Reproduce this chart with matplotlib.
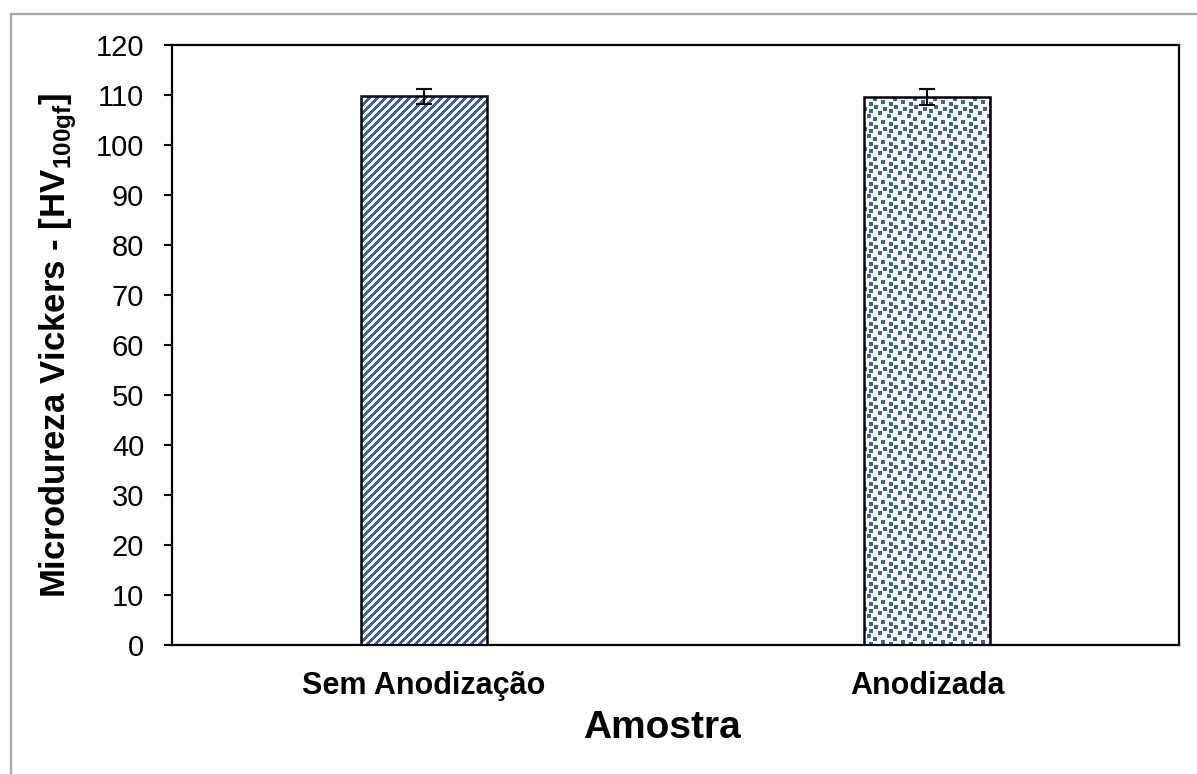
import numpy as np
import matplotlib
matplotlib.use("Agg")
import matplotlib.pyplot as plt
from matplotlib.patches import Rectangle

plt.rcParams['font.family'] = ['Liberation Sans', 'DejaVu Sans']
plt.rcParams['mathtext.fontset'] = 'custom'
plt.rcParams['mathtext.rm'] = 'Liberation Sans'
plt.rcParams['mathtext.bf'] = 'Liberation Sans:bold'

# dados de microdureza
amostras = ['Sem Anodização', 'Anodizada']
dureza = [109.7, 109.5]
desvio = [1.5, 1.6]

azul = '#3862a2'

fig = plt.figure(figsize=(11.97, 7.74), dpi=100)
ax = fig.add_axes([0.1437, 0.1667, 0.8413, 0.7752])

x = np.arange(len(amostras))
barras = ax.bar(x, dureza, width=0.25, facecolor='none', edgecolor='black',
                linewidth=1.8, zorder=3)
ax.errorbar(x, dureza, yerr=desvio, fmt='none', ecolor='black',
            elinewidth=1.5, capsize=5.5, capthick=1.5, zorder=4)

ax.set_xlim(-0.5, 1.5)
ax.set_ylim(0, 120)
ax.set_yticks(np.arange(0, 121, 10))
ax.set_xticks(x)
ax.set_xticklabels(amostras, fontsize=22, fontweight='bold')
ax.tick_params(axis='y', labelsize=21, length=6, width=1.5, pad=14)
ax.tick_params(axis='x', length=0, pad=19)
for s in ax.spines.values():
    s.set_linewidth(1.6)

# texturas (listras diagonais e confete) em pixels do eixo
fig.canvas.draw()
bb = ax.get_window_extent()
w, h = int(round(bb.width)), int(round(bb.height))
ii, jj = np.mgrid[0:h, 0:w]

listras = ((ii + jj) % 8) < 4

tile = np.zeros((20, 20), dtype=bool)
for r, c in [(0, 2), (2, 11), (4, 17), (6, 6), (9, 15), (12, 1), (15, 9), (17, 17)]:
    for dr in range(4):
        for dc in range(4):
            tile[(r + dr) % 20, (c + dc) % 20] = True
confete = tile[ii % 20, jj % 20]

rgb_azul = np.array(matplotlib.colors.to_rgb(azul))
for barra, padrao in zip(barras, [listras, confete]):
    img = np.ones((h, w, 3))
    img[padrao] = rgb_azul
    im = ax.imshow(img, extent=(-0.5, 1.5, 0, 120), aspect='auto',
                   interpolation='nearest', zorder=2)
    im.set_clip_path(barra)

ax.set_xlabel('Amostra', fontsize=28, fontweight='bold')
ax.xaxis.set_label_coords(0.4866, -0.108)
ax.set_ylabel(r'Microdureza Vickers - [HV$_{\mathbf{100gf}}$]',
              fontsize=25, fontweight='bold')
ax.yaxis.set_label_coords(-0.092, 0.5)

# moldura cinza da área do gráfico
fig.patches.append(Rectangle((11 / 1197, -0.05), 1.1, 1 - 14 / 774 + 0.05,
                             transform=fig.transFigure, fill=False,
                             edgecolor='#a6a6a6', linewidth=1.6))

fig.savefig('out.png', dpi=100)
